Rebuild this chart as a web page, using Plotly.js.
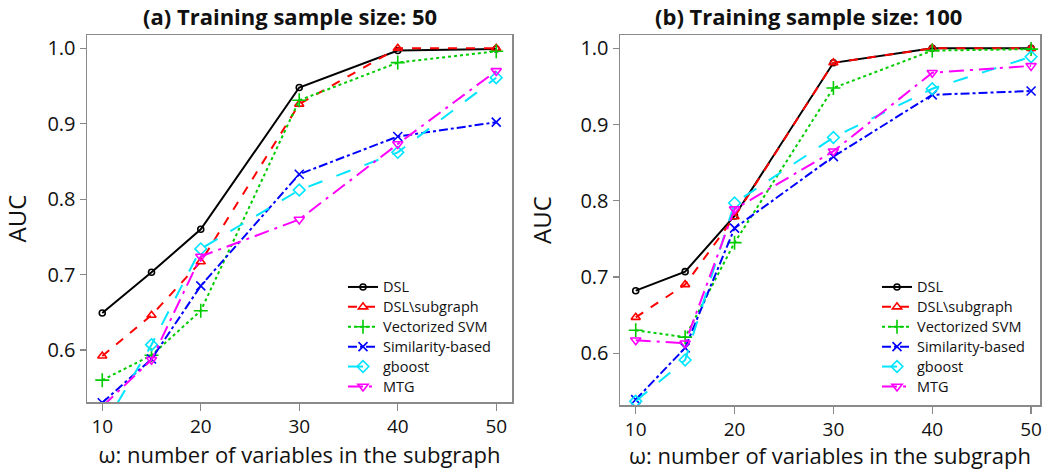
<!DOCTYPE html>
<html>
<head>
<meta charset="utf-8">
<script src="https://cdn.plot.ly/plotly-3.0.1.min.js"></script>
<style>html,body{margin:0;padding:0;background:#fff;}#chart{width:1050px;height:470px;}</style>
</head>
<body>
<div id="chart"></div>
<script>
// x values: omega = number of variables in the subgraph
const omega = [10, 15, 20, 30, 40, 50];
const xTicks = [10, 20, 30, 40, 50];
const yTicks = [0.6, 0.7, 0.8, 0.9, 1.0];
const yTickText = ['0.6', '0.7', '0.8', '0.9', '1.0'];
const methods = ['DSL', 'DSL\\subgraph', 'Vectorized SVM', 'Similarity-based', 'gboost', 'MTG'];
const panelTitles = ['(a) Training sample size: 50', '(b) Training sample size: 100'];

// (a) Training sample size 50
const a_DSL        = [0.649, 0.703, 0.760, 0.948, 0.997, 0.999];
const a_DSLsub     = [0.592, 0.646, 0.717, 0.926, 1.000, 1.000];
const a_SVM        = [0.560, 0.593, 0.652, 0.931, 0.981, 0.996];
const a_Similarity = [0.530, 0.588, 0.685, 0.833, 0.883, 0.902];
const a_gboost     = [0.495, 0.607, 0.734, 0.812, 0.862, 0.961];
const a_MTG        = [0.525, 0.587, 0.724, 0.773, 0.873, 0.970];

// (b) Training sample size 100
const b_DSL        = [0.682, 0.707, 0.780, 0.981, 1.000, 1.000];
const b_DSLsub     = [0.647, 0.690, 0.779, 0.981, 1.000, 1.000];
const b_SVM        = [0.630, 0.621, 0.745, 0.948, 0.997, 0.999];
const b_Similarity = [0.539, 0.607, 0.764, 0.858, 0.939, 0.944];
const b_gboost     = [0.537, 0.591, 0.797, 0.883, 0.947, 0.989];
const b_MTG        = [0.617, 0.613, 0.789, 0.865, 0.968, 0.977];

const colors  = ['#000000', '#ff0000', '#00cc00', '#0000ff', '#00e5ff', '#ff00ff'];
const dashes  = ['solid', 'dash', 'dot', 'dashdot', 'longdash', 'longdashdot'];
const symbols = ['circle-open', 'triangle-up-open', 'cross-thin-open', 'x-thin-open', 'diamond-open', 'triangle-down-open'];
const sizes   = [6, 8, 10, 9, 9, 9];

const FONT = '"Open Sans", sans-serif';

const panelA = [a_DSL, a_DSLsub, a_SVM, a_Similarity, a_gboost, a_MTG];
const panelB = [b_DSL, b_DSLsub, b_SVM, b_Similarity, b_gboost, b_MTG];

const traces = [];
[panelA, panelB].forEach(function (panel, p) {
  panel.forEach(function (vals, i) {
    traces.push({
      type: 'scatter', mode: 'lines+markers',
      x: omega, y: vals,
      name: '<span style="font-size:14.5px">' + methods[i] + '</span>',
      xaxis: p === 0 ? 'x' : 'x2', yaxis: p === 0 ? 'y' : 'y2',
      legend: p === 0 ? 'legend' : 'legend2',
      line: {color: colors[i], dash: dashes[i], width: 2},
      marker: {symbol: symbols[i], size: sizes[i], color: colors[i], line: {color: colors[i], width: 1.6}}
    });
  });
});

function xAxis(domain, anchor) {
  return {
    domain: domain, anchor: anchor, range: [8.45, 51.6],
    tickmode: 'array', tickvals: xTicks, ticks: 'outside', ticklen: 7, tickwidth: 1.2, tickcolor: '#888',
    showline: true, mirror: true, linecolor: '#8a8a8a', linewidth: 1.5,
    showgrid: false, zeroline: false,
    tickfont: {family: FONT, size: 19, color: '#111'},
    title: {text: 'ω: number of variables in the subgraph', standoff: 7, font: {family: FONT, size: 22, color: '#111'}}
  };
}
function yAxis(domain, anchor, range) {
  return {
    domain: domain, anchor: anchor, range: range,
    tickmode: 'array', tickvals: yTicks, ticktext: yTickText, ticks: 'outside', ticklen: 6, tickwidth: 1.2, tickcolor: '#888',
    showline: true, mirror: true, linecolor: '#8a8a8a', linewidth: 1.5,
    showgrid: false, zeroline: false,
    tickfont: {family: FONT, size: 20, color: '#111'},
    title: {text: 'AUC', standoff: 22, font: {family: FONT, size: 24, color: '#111'}}
  };
}

const xa = xAxis([87 / 1050, 512 / 1050], 'y');
const xb = xAxis([620 / 1050, 1040 / 1050], 'y2');
xb.range = [8.41, 50.9];

const legendBase = {
  bgcolor: 'rgba(0,0,0,0)', borderwidth: 0,
  font: {family: FONT, size: 13, color: '#111'},
  xref: 'paper', yref: 'paper', xanchor: 'left', yanchor: 'top',
  tracegroupgap: 0
};

const layout = {
  width: 1050, height: 470,
  margin: {l: 0, r: 0, t: 0, b: 0},
  paper_bgcolor: '#fff', plot_bgcolor: '#fff',
  showlegend: true,
  xaxis: xa,
  yaxis: yAxis([1 - 402 / 470, 1 - 35 / 470], 'x', [0.531, 1.0176]),
  xaxis2: xb,
  yaxis2: yAxis([1 - 405 / 470, 1 - 35 / 470], 'x2', [0.532, 1.0175]),
  legend: Object.assign({}, legendBase, {x: 343 / 1050, y: 1 - 272 / 470}),
  legend2: Object.assign({}, legendBase, {x: 877 / 1050, y: 1 - 272 / 470}),
  annotations: [
    {text: '<b>' + panelTitles[0] + '</b>', xref: 'paper', yref: 'paper', x: 290 / 1050, y: 1 - 16 / 470,
     xanchor: 'center', yanchor: 'middle', showarrow: false, font: {family: FONT, size: 22, color: '#111'}},
    {text: '<b>' + panelTitles[1] + '</b>', xref: 'paper', yref: 'paper', x: 808 / 1050, y: 1 - 16 / 470,
     xanchor: 'center', yanchor: 'middle', showarrow: false, font: {family: FONT, size: 22, color: '#111'}}
  ]
};

Plotly.newPlot('chart', traces, layout, {displayModeBar: false, staticPlot: true});
</script>
</body>
</html>
